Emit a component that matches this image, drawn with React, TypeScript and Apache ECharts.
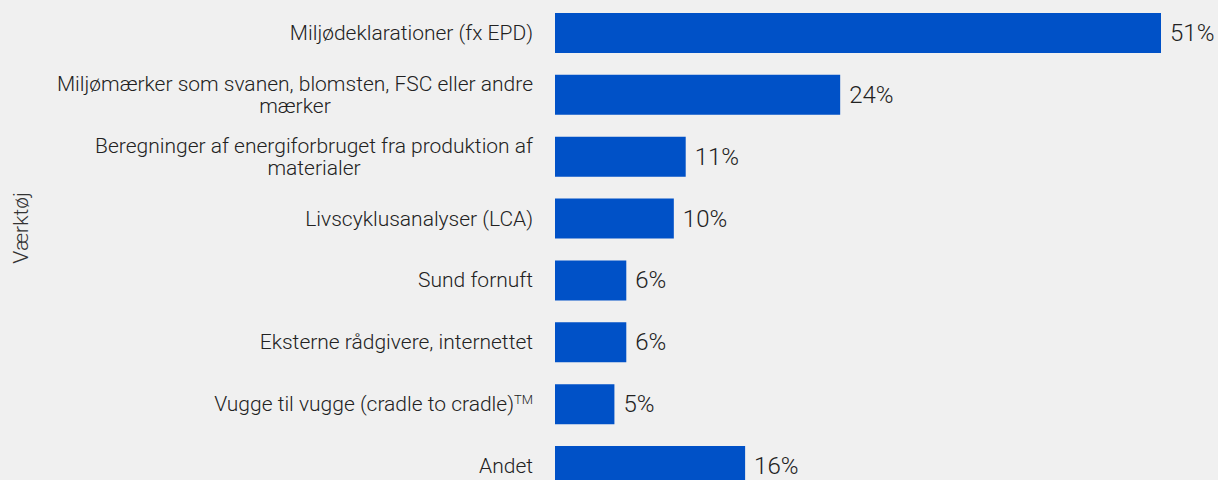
import React, { useEffect, useRef } from "react";
import * as echarts from "echarts";

const categories: string[] = [
  "Miljødeklarationer (fx EPD)",
  "Miljømærker som svanen, blomsten, FSC eller andre\nmærker",
  "Beregninger af energiforbruget fra produktion af\nmaterialer",
  "Livscyklusanalyser (LCA)",
  "Sund fornuft",
  "Eksterne rådgivere, internettet",
  "Vugge til vugge (cradle to cradle)™",
  "Andet",
];
const values: number[] = [51, 24, 11, 10, 6, 6, 5, 16];
const axisTitle = "Værktøj";

const FONT = "Roboto, 'Liberation Sans', sans-serif";
const TEXT = "#222222";
const BAR = "#0051c7";

export default function App() {
  const ref = useRef<HTMLDivElement>(null);
  useEffect(() => {
    if (!ref.current) return;
    const chart = echarts.init(ref.current, undefined, { renderer: "svg" });
    chart.setOption({
      animation: false,
      backgroundColor: "#f0f0f0",
      textStyle: { fontFamily: FONT },
      grid: { left: 555, top: 2, width: 606, height: 495, containLabel: false },
      xAxis: {
        type: "value",
        min: 0,
        max: 51,
        show: false,
      },
      yAxis: {
        type: "category",
        inverse: true,
        data: categories,
        axisLine: { show: false },
        axisTick: { show: false },
        splitLine: { show: false },
        axisLabel: {
          margin: 22,
          align: "right",
          color: TEXT,
          fontFamily: FONT,
          fontSize: 21,
          fontWeight: 300,
          formatter: (v: string) =>
            v
              .split("\n")
              .map((line) => {
                if (line.includes("™")) {
                  return `{c|${line.replace("™", "")}}{sup|TM}`;
                }
                return `{c|${line}}`;
              })
              .join("\n"),
          rich: {
            c: {
              align: "center",
              fontSize: 21,
              fontWeight: 300,
              lineHeight: 22,
              color: TEXT,
              fontFamily: FONT,
            },
            sup: {
              align: "center",
              fontSize: 13,
              fontWeight: 300,
              lineHeight: 10,
              verticalAlign: "top",
              color: TEXT,
              fontFamily: FONT,
            },
          },
        },
      },
      graphic: [
        {
          type: "text",
          x: 21,
          y: 228,
          rotation: Math.PI / 2,
          style: {
            text: axisTitle,
            fontSize: 21,
            fontWeight: 300,
            fontFamily: FONT,
            fill: "#333333",
            align: "center",
            verticalAlign: "middle",
          },
        },
      ],
      series: [
        {
          type: "bar",
          data: values,
          barWidth: 40,
          itemStyle: { color: BAR },
          label: {
            show: true,
            position: "right",
            distance: 9,
            formatter: "{c}%",
            color: TEXT,
            fontFamily: FONT,
            fontWeight: 300,
            fontSize: 24,
          },
        },
      ],
    });
    return () => chart.dispose();
  }, []);
  return (
    <div
      ref={ref}
      style={{ position: "fixed", left: 0, top: 0, width: 1218, height: 500 }}
    />
  );
}
